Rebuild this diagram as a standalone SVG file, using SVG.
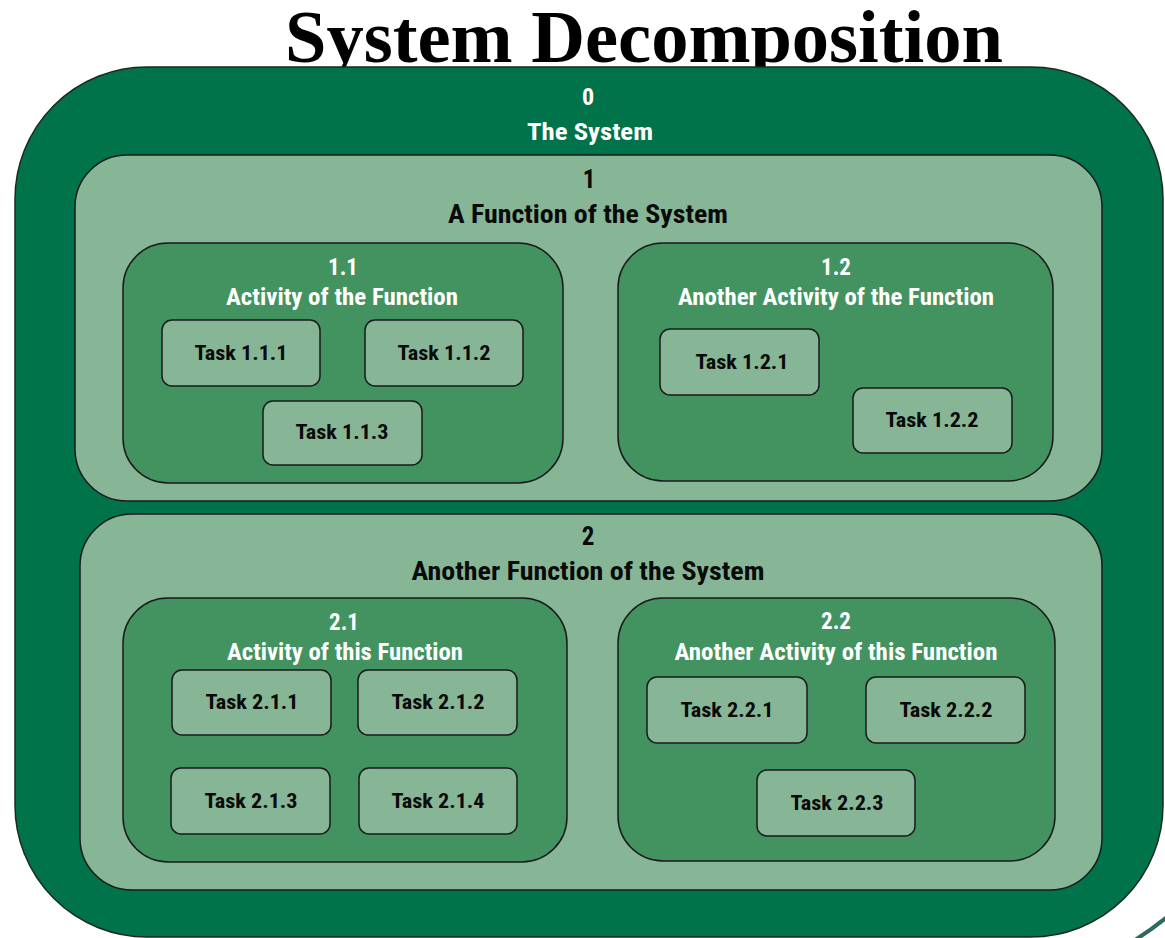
<svg xmlns="http://www.w3.org/2000/svg" width="1165" height="938" viewBox="0 0 1165 938">
  <style>
    .title { font-family: "Liberation Serif", "Times New Roman", serif; font-weight: bold; font-size: 75px; fill: #000; }
    .lbl { font-family: "Liberation Sans Narrow", "Roboto Condensed", "Liberation Sans", Arial, sans-serif; font-weight: bold; text-anchor: middle; }
    .sys { fill: #00734A; stroke: #1a2a20; stroke-width: 1.5; }
    .fn { fill: #86B696; stroke: #1a1a1a; stroke-width: 1.5; }
    .act { fill: #42935F; stroke: #1a1a1a; stroke-width: 1.5; }
    .task { fill: #86B696; stroke: #1a1a1a; stroke-width: 1.5; }
    .w { fill: #ffffff; font-size: 24px; }
    .b { fill: #0a0a0a; font-size: 25px; }
    .wa { fill: #ffffff; font-size: 23px; }
    .t { fill: #0a0a0a; font-size: 21px; }
  </style>

  <rect width="1165" height="938" fill="#ffffff"/>

  <text class="title" x="285" y="62" textLength="718" lengthAdjust="spacingAndGlyphs">System Decomposition</text>

  <!-- level 0 -->
  <g id="n0">
    <rect class="sys" x="15" y="67" width="1148" height="870" rx="132" ry="132"/>
    <text class="lbl w" x="588" y="105">0</text>
    <text class="lbl w" x="590" y="140" textLength="126" lengthAdjust="spacingAndGlyphs">The System</text>
  </g>

  <!-- level 1: first function -->
  <g id="n1">
    <rect class="fn" x="75" y="155" width="1027" height="346" rx="52" ry="52"/>
    <text class="lbl b" x="589" y="188">1</text>
    <text class="lbl b" x="588" y="223" textLength="280" lengthAdjust="spacingAndGlyphs">A Function of the System</text>
  </g>

  <g id="n1-1">
    <rect class="act" x="123" y="243" width="440" height="240" rx="45" ry="45"/>
    <text class="lbl wa" x="343" y="275">1.1</text>
    <text class="lbl wa" x="342" y="305" textLength="232" lengthAdjust="spacingAndGlyphs">Activity of the Function</text>
  </g>
  <g id="n1-1-1">
    <rect class="task" x="162" y="320" width="158" height="66" rx="10" ry="10"/>
    <text class="lbl t" x="241" y="360" textLength="93" lengthAdjust="spacingAndGlyphs">Task 1.1.1</text>
  </g>
  <g id="n1-1-2">
    <rect class="task" x="365" y="320" width="158" height="66" rx="10" ry="10"/>
    <text class="lbl t" x="444" y="360" textLength="93" lengthAdjust="spacingAndGlyphs">Task 1.1.2</text>
  </g>
  <g id="n1-1-3">
    <rect class="task" x="263" y="401" width="159" height="64" rx="10" ry="10"/>
    <text class="lbl t" x="342" y="439" textLength="93" lengthAdjust="spacingAndGlyphs">Task 1.1.3</text>
  </g>

  <g id="n1-2">
    <rect class="act" x="618" y="243" width="435" height="238" rx="45" ry="45"/>
    <text class="lbl wa" x="836" y="275">1.2</text>
    <text class="lbl wa" x="836" y="305" textLength="316" lengthAdjust="spacingAndGlyphs">Another Activity of the Function</text>
  </g>
  <g id="n1-2-1">
    <rect class="task" x="660" y="329" width="159" height="66" rx="10" ry="10"/>
    <text class="lbl t" x="742" y="369" textLength="93" lengthAdjust="spacingAndGlyphs">Task 1.2.1</text>
  </g>
  <g id="n1-2-2">
    <rect class="task" x="853" y="388" width="159" height="65" rx="10" ry="10"/>
    <text class="lbl t" x="932" y="427" textLength="93" lengthAdjust="spacingAndGlyphs">Task 1.2.2</text>
  </g>

  <!-- level 1: second function -->
  <g id="n2">
    <rect class="fn" x="80" y="514" width="1022" height="376" rx="52" ry="52"/>
    <text class="lbl b" x="588" y="545">2</text>
    <text class="lbl b" x="588" y="580" textLength="353" lengthAdjust="spacingAndGlyphs">Another Function of the System</text>
  </g>

  <g id="n2-1">
    <rect class="act" x="123" y="598" width="444" height="264" rx="45" ry="45"/>
    <text class="lbl wa" x="344" y="630">2.1</text>
    <text class="lbl wa" x="345" y="660" textLength="236" lengthAdjust="spacingAndGlyphs">Activity of this Function</text>
  </g>
  <g id="n2-1-1">
    <rect class="task" x="172" y="670" width="159" height="65" rx="10" ry="10"/>
    <text class="lbl t" x="252" y="709" textLength="93" lengthAdjust="spacingAndGlyphs">Task 2.1.1</text>
  </g>
  <g id="n2-1-2">
    <rect class="task" x="358" y="670" width="159" height="65" rx="10" ry="10"/>
    <text class="lbl t" x="438" y="709" textLength="93" lengthAdjust="spacingAndGlyphs">Task 2.1.2</text>
  </g>
  <g id="n2-1-3">
    <rect class="task" x="171" y="768" width="159" height="66" rx="10" ry="10"/>
    <text class="lbl t" x="251" y="808" textLength="93" lengthAdjust="spacingAndGlyphs">Task 2.1.3</text>
  </g>
  <g id="n2-1-4">
    <rect class="task" x="359" y="768" width="158" height="66" rx="10" ry="10"/>
    <text class="lbl t" x="438" y="808" textLength="93" lengthAdjust="spacingAndGlyphs">Task 2.1.4</text>
  </g>

  <g id="n2-2">
    <rect class="act" x="618" y="598" width="437" height="263" rx="45" ry="45"/>
    <text class="lbl wa" x="836" y="629">2.2</text>
    <text class="lbl wa" x="836" y="660" textLength="323" lengthAdjust="spacingAndGlyphs">Another Activity of this Function</text>
  </g>
  <g id="n2-2-1">
    <rect class="task" x="647" y="677" width="160" height="66" rx="10" ry="10"/>
    <text class="lbl t" x="727" y="717" textLength="93" lengthAdjust="spacingAndGlyphs">Task 2.2.1</text>
  </g>
  <g id="n2-2-2">
    <rect class="task" x="866" y="677" width="159" height="66" rx="10" ry="10"/>
    <text class="lbl t" x="946" y="717" textLength="93" lengthAdjust="spacingAndGlyphs">Task 2.2.2</text>
  </g>
  <g id="n2-2-3">
    <rect class="task" x="757" y="770" width="158" height="66" rx="10" ry="10"/>
    <text class="lbl t" x="837" y="810" textLength="93" lengthAdjust="spacingAndGlyphs">Task 2.2.3</text>
  </g>

  <!-- no connectors: containment only -->
  <g id="connectors"/>

  <!-- slide decoration in the lower right corner -->
  <path d="M 1135 940 Q 1151 930 1167 917" fill="none" stroke="#2E6A5E" stroke-width="4"/>
</svg>
